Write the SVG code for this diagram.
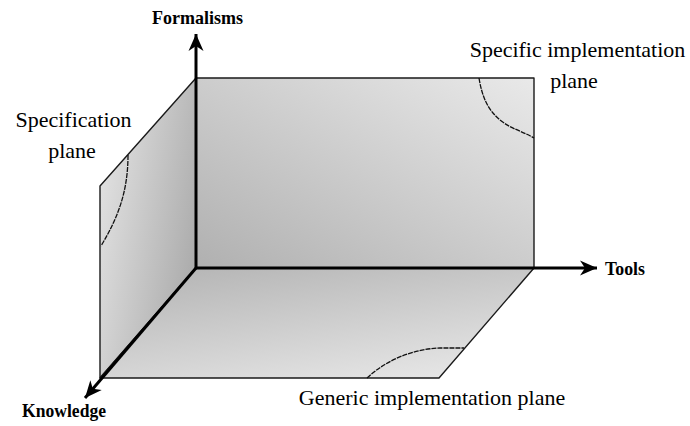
<svg xmlns="http://www.w3.org/2000/svg" width="690" height="426" viewBox="0 0 690 426">
  <defs>
    <linearGradient id="gBack" x1="0" y1="1" x2="1" y2="0">
      <stop offset="0" stop-color="#b0b0b0"/>
      <stop offset="1" stop-color="#e9e9e9"/>
    </linearGradient>
    <linearGradient id="gFloor" x1="0.2" y1="0" x2="0.8" y2="1">
      <stop offset="0" stop-color="#b6b6b6"/>
      <stop offset="1" stop-color="#e6e6e6"/>
    </linearGradient>
    <linearGradient id="gLeft" x1="0" y1="0.1" x2="1" y2="0.6">
      <stop offset="0" stop-color="#e6e6e6"/>
      <stop offset="1" stop-color="#acacac"/>
    </linearGradient>
    <marker id="arrow" markerUnits="userSpaceOnUse" viewBox="-18 -8 19 16" refX="0" refY="0" markerWidth="19" markerHeight="16" orient="auto">
      <path d="M0,0 L-17,-7.5 L-12,0 L-17,7.5 Z" fill="#000"/>
    </marker>
    <style>
      .plane { stroke: #1a1a1a; stroke-width: 1.4; stroke-linejoin: round; }
      .curve { fill: none; stroke: #111; stroke-width: 1.3; stroke-dasharray: 5 1; }
      .axis { fill: none; stroke: #000; stroke-width: 3; marker-end: url(#arrow); }
      .axlabel { font-family: "Liberation Serif", "Times New Roman", serif; font-weight: bold; font-size: 19px; fill: #000; }
      .plabel { font-family: "Liberation Serif", "Times New Roman", serif; font-size: 22px; fill: #000; }
    </style>
  </defs>

  <g id="back-plane">
    <rect class="plane" x="196" y="78" width="338" height="190" fill="url(#gBack)"/>
    <path class="curve" d="M479,78 C482,96 487,109 500,120 C511,129 522,131 534,138"/>
  </g>

  <g id="left-plane">
    <polygon class="plane" points="196,78 196,268 100,378 100,186" fill="url(#gLeft)"/>
    <path class="curve" d="M128,155 C128,190 119,216 101,246"/>
  </g>

  <g id="floor-plane">
    <polygon class="plane" points="196,268 534,268 439,378 100,378" fill="url(#gFloor)"/>
    <path class="curve" d="M367,378 C384,362 410,349 440,348 L464,348"/>
  </g>

  <g id="axes">
    <line class="axis" x1="196" y1="269" x2="196" y2="34"/>
    <line class="axis" x1="195" y1="268" x2="597" y2="268"/>
    <line class="axis" x1="196" y1="268" x2="85" y2="398"/>
  </g>

  <g id="axis-labels">
    <text class="axlabel" x="152" y="24" textLength="91" lengthAdjust="spacingAndGlyphs">Formalisms</text>
    <text class="axlabel" x="605" y="275" textLength="40" lengthAdjust="spacingAndGlyphs">Tools</text>
    <text class="axlabel" x="22" y="417" textLength="84" lengthAdjust="spacingAndGlyphs">Knowledge</text>
  </g>

  <g id="plane-labels">
    <text class="plabel" x="73.5" y="127" text-anchor="middle">Specification</text>
    <text class="plabel" x="72" y="158" text-anchor="middle">plane</text>
    <text class="plabel" x="577.5" y="57" text-anchor="middle">Specific implementation</text>
    <text class="plabel" x="574" y="88" text-anchor="middle">plane</text>
    <text class="plabel" x="432" y="405" text-anchor="middle">Generic implementation plane</text>
  </g>
</svg>
